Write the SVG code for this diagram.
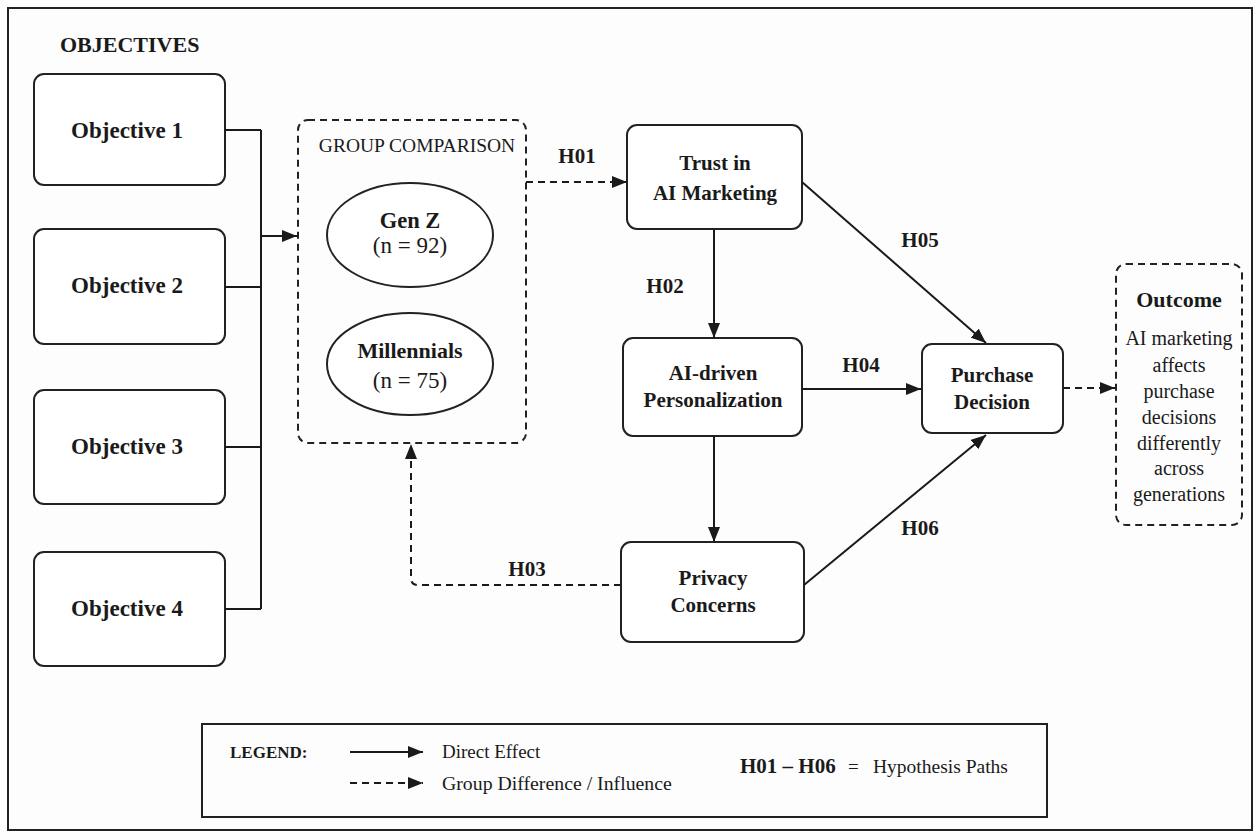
<svg xmlns="http://www.w3.org/2000/svg" width="1260" height="840" viewBox="0 0 1260 840">
<defs>
<marker id="ah" markerUnits="userSpaceOnUse" markerWidth="16" markerHeight="12" refX="15" refY="6" orient="auto">
<path d="M0,0 L15,6 L0,12 z" fill="#1a1a1a"/>
</marker>
</defs>
<style>
text{font-family:"Liberation Serif","Times New Roman",serif;fill:#1a1a1a}
.node{fill:#fff;stroke:#222;stroke-width:2}
.dash{fill:none;stroke:#222;stroke-width:2;stroke-dasharray:7 5}
.b{font-weight:bold;font-size:21px;text-anchor:middle}
.r{font-size:20px;text-anchor:middle}
.obj{font-weight:bold;font-size:23px;text-anchor:middle}
.lbl{font-weight:bold;font-size:21px;text-anchor:middle}
.c{fill:none;stroke:#1a1a1a;stroke-width:2}
.cd{fill:none;stroke:#1a1a1a;stroke-width:2;stroke-dasharray:7 5}
</style>
<rect x="0" y="0" width="1260" height="840" fill="#fdfdfd"/>
<rect x="8" y="8" width="1244" height="822" fill="none" stroke="#222" stroke-width="2"/>
<text x="60" y="52" style="font-weight:bold;font-size:22px">OBJECTIVES</text>

<g id="objective1"><rect class="node" x="34" y="74" width="191" height="111" rx="10"/><text class="obj" x="127" y="138">Objective 1</text></g>
<g id="objective2"><rect class="node" x="34" y="229" width="191" height="115" rx="10"/><text class="obj" x="127" y="293">Objective 2</text></g>
<g id="objective3"><rect class="node" x="34" y="390" width="191" height="114" rx="10"/><text class="obj" x="127" y="454">Objective 3</text></g>
<g id="objective4"><rect class="node" x="34" y="552" width="191" height="114" rx="10"/><text class="obj" x="127" y="616">Objective 4</text></g>

<g id="group-comparison">
<rect class="dash" x="298" y="120" width="228" height="323" rx="10"/>
<text x="417" y="152" style="font-size:19.5px;text-anchor:middle">GROUP COMPARISON</text>
<g id="genz"><ellipse cx="410" cy="235" rx="83" ry="52" fill="#fff" stroke="#222" stroke-width="2"/><text class="b" x="410" y="228" style="font-size:22.5px">Gen Z</text><text class="r" x="410" y="253" style="font-size:23px">(n = 92)</text></g>
<g id="millennials"><ellipse cx="410" cy="364" rx="83" ry="51" fill="#fff" stroke="#222" stroke-width="2"/><text class="b" x="410" y="358" style="font-size:22px">Millennials</text><text class="r" x="410" y="388" style="font-size:23px">(n = 75)</text></g>
</g>

<g id="trust"><rect class="node" x="627" y="125" width="175" height="104" rx="10"/><text class="b" x="715" y="170">Trust in</text><text class="b" x="715" y="200">AI Marketing</text></g>
<g id="personalization"><rect class="node" x="623" y="338" width="179" height="98" rx="10"/><text class="b" x="713" y="380">AI-driven</text><text class="b" x="713" y="407">Personalization</text></g>
<g id="privacy"><rect class="node" x="621" y="542" width="183" height="100" rx="10"/><text class="b" x="713" y="585">Privacy</text><text class="b" x="713" y="612">Concerns</text></g>
<g id="purchase"><rect class="node" x="922" y="344" width="141" height="89" rx="10"/><text class="b" x="992" y="382">Purchase</text><text class="b" x="992" y="409">Decision</text></g>
<g id="outcome">
<rect class="dash" x="1116" y="264" width="126" height="261" rx="10"/>
<text class="b" x="1179" y="307" style="font-size:22px">Outcome</text>
<text class="r" x="1179" y="345">AI marketing</text>
<text class="r" x="1179" y="372">affects</text>
<text class="r" x="1179" y="398">purchase</text>
<text class="r" x="1179" y="424">decisions</text>
<text class="r" x="1179" y="450">differently</text>
<text class="r" x="1179" y="475">across</text>
<text class="r" x="1179" y="501">generations</text>
</g>

<g id="connectors">
<path class="c" d="M225,130 H261 M225,287 H261 M225,447 H261 M225,609 H261 M261,130 V609"/>
<path class="c" d="M261,236 H297" marker-end="url(#ah)"/>
<path class="cd" d="M526,182 H627" marker-end="url(#ah)"/>
<path class="c" d="M714,229 V338" marker-end="url(#ah)"/>
<path class="c" d="M714,436 V542" marker-end="url(#ah)"/>
<path class="c" d="M802,389 H921" marker-end="url(#ah)"/>
<path class="c" d="M802,182 L986,343" marker-end="url(#ah)"/>
<path class="c" d="M804,585 L986,435" marker-end="url(#ah)"/>
<path class="cd" d="M1063,388 H1115" marker-end="url(#ah)"/>
<path class="cd" d="M621,585 H418 Q411,585 411,578 V444" marker-end="url(#ah)"/>
<text class="lbl" x="577" y="163">H01</text>
<text class="lbl" x="665" y="293">H02</text>
<text class="lbl" x="527" y="576">H03</text>
<text class="lbl" x="861" y="372">H04</text>
<text class="lbl" x="920" y="247">H05</text>
<text class="lbl" x="920" y="535">H06</text>
</g>

<g id="legend">
<rect x="202" y="724" width="845" height="93" fill="none" stroke="#222" stroke-width="2"/>
<text x="230" y="758" style="font-weight:bold;font-size:17px">LEGEND:</text>
<path class="c" d="M350,752 H423" marker-end="url(#ah)"/>
<path class="cd" d="M350,783 H423" marker-end="url(#ah)"/>
<text x="442" y="758" style="font-size:19px">Direct Effect</text>
<text x="442" y="790" style="font-size:19.8px">Group Difference / Influence</text>
<text x="740" y="773" style="font-weight:bold;font-size:21px">H01 – H06</text>
<text x="848" y="773" style="font-size:19px">=</text>
<text x="873" y="773" style="font-size:19.5px">Hypothesis Paths</text>
</g>
</svg>
